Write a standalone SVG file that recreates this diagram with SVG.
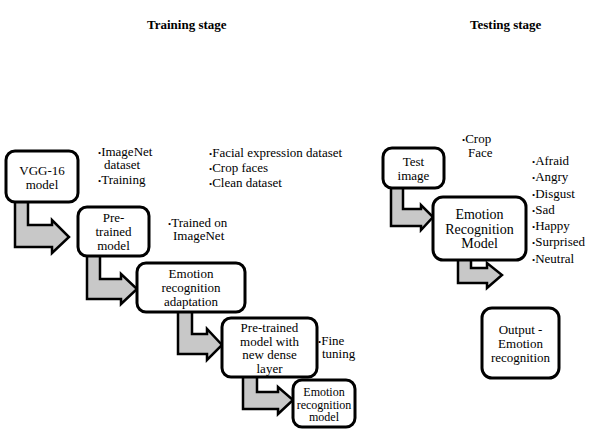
<svg xmlns="http://www.w3.org/2000/svg" width="607" height="438" viewBox="0 0 607 438" font-family="Liberation Serif, Tinos, Times New Roman, DejaVu Serif, serif">
<style>
text{font-family:'Liberation Serif',Tinos,'Times New Roman','DejaVu Serif',serif;font-size:13px;fill:#000}
.c{text-anchor:middle}
.t{font-weight:bold}
.s{font-size:12px}
.l{font-size:14px}
.box{fill:#fff;stroke:#000;stroke-width:3}
.arr{fill:#c8c8c8;stroke:#000;stroke-width:2.5;stroke-linejoin:miter}
.b{font-size:9px}
</style>
<rect width="607" height="438" fill="#fff"/>
<text class="t" x="147" y="29">Training stage</text>
<text class="t" x="470" y="29">Testing stage</text>
<g id="connectors">
<polygon class="arr" points="15,200 28,200 28,225 52,225 52,220 69,237 52,253 52,247 15,247"/>
<polygon class="arr" points="87,254 100,254 100,279 121,279 121,274 137,289 121,304 121,299 87,299"/>
<polygon class="arr" points="178,310 192,310 192,334 207,334 207,329 222,345 207,360 207,354 178,354"/>
<polygon class="arr" points="243,375 257,375 257,392 278,392 278,387 293,400 278,414 278,409 243,409"/>
<polygon class="arr" points="391,186 403,186 403,209 421,209 421,205 433,217 421,230 421,226 391,226"/>
<polygon class="arr" points="458,258 471,258 471,268 487,268 487,263 502,275 487,288 487,283 458,283"/>
</g>
<g id="vgg16">
<rect class="box" x="6" y="151" width="72" height="51" rx="9"/>
<text class="c" x="42" y="175">VGG-16</text>
<text class="c" x="42" y="189">model</text>
</g>
<g id="note-imagenet">
<text x="98" y="156"><tspan class="b">•</tspan>ImageNet</text>
<text x="104" y="169">dataset</text>
<text x="98" y="184"><tspan class="b">•</tspan>Training</text>
</g>
<g id="note-facial">
<text x="209" y="157"><tspan class="b">•</tspan>Facial expression dataset</text>
<text x="209" y="172"><tspan class="b">•</tspan>Crop faces</text>
<text x="209" y="187"><tspan class="b">•</tspan>Clean dataset</text>
</g>
<g id="pretrained">
<rect class="box" x="78" y="207" width="71" height="49" rx="9"/>
<text class="c" x="113.5" y="222">Pre-</text>
<text class="c" x="113.5" y="236">trained</text>
<text class="c" x="113.5" y="250">model</text>
</g>
<g id="note-trained">
<text x="168" y="227"><tspan class="b">•</tspan>Trained on</text>
<text x="173" y="240">ImageNet</text>
</g>
<g id="adaptation">
<rect class="box" x="137" y="263" width="108" height="49" rx="9"/>
<text class="c" x="191" y="278">Emotion</text>
<text class="c" x="191" y="292">recognition</text>
<text class="c" x="191" y="306">adaptation</text>
</g>
<g id="dense">
<rect class="box" x="222" y="318" width="95" height="59" rx="9"/>
<text class="c" x="269.5" y="332">Pre-trained</text>
<text class="c" x="269.5" y="345.5">model with</text>
<text class="c" x="269.5" y="359">new dense</text>
<text class="c" x="269.5" y="372.5">layer</text>
</g>
<g id="note-fine">
<text x="318" y="345"><tspan class="b">•</tspan>Fine</text>
<text x="322" y="358">tuning</text>
</g>
<g id="erm">
<rect class="box" x="293" y="380" width="62" height="47" rx="9"/>
<text class="c s" x="324" y="396">Emotion</text>
<text class="c s" x="324" y="408.5">recognition</text>
<text class="c s" x="324" y="421">model</text>
</g>
<g id="note-crop">
<text x="462" y="143"><tspan class="b">•</tspan>Crop</text>
<text x="468" y="157">Face</text>
</g>
<g id="testimage">
<rect class="box" x="383" y="148" width="61" height="40" rx="9"/>
<text class="c" x="413.5" y="166">Test</text>
<text class="c" x="413.5" y="180">image</text>
</g>
<g id="recogmodel">
<rect class="box" x="433" y="197" width="93" height="63" rx="10"/>
<text class="c l" x="479.5" y="219">Emotion</text>
<text class="c l" x="479.5" y="233.5">Recognition</text>
<text class="c l" x="479.5" y="248">Model</text>
</g>
<g id="emotions">
<text x="532" y="165"><tspan class="b">•</tspan>Afraid</text>
<text x="532" y="181"><tspan class="b">•</tspan>Angry</text>
<text x="532" y="198"><tspan class="b">•</tspan>Disgust</text>
<text x="532" y="214"><tspan class="b">•</tspan>Sad</text>
<text x="532" y="230"><tspan class="b">•</tspan>Happy</text>
<text x="532" y="246"><tspan class="b">•</tspan>Surprised</text>
<text x="532" y="263"><tspan class="b">•</tspan>Neutral</text>
</g>
<g id="output">
<rect class="box" x="482" y="308" width="77" height="70" rx="10"/>
<text class="c" x="520.5" y="334">Output -</text>
<text class="c" x="520.5" y="348">Emotion</text>
<text class="c" x="520.5" y="362">recognition</text>
</g>
</svg>
